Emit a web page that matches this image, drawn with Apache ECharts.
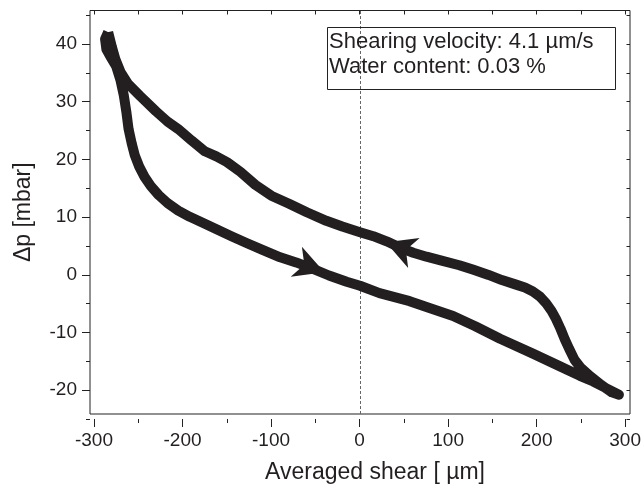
<!DOCTYPE html>
<html>
<head>
<meta charset="utf-8">
<script src="https://cdn.jsdelivr.net/npm/echarts@6.0.0/dist/echarts.min.js"></script>
<style>
  html, body { margin: 0; padding: 0; background: #fff; }
  #chart { width: 644px; height: 489px; }
</style>
</head>
<body>
<div id="chart"></div>
<script>
// Pressure difference across the sample during one shear cycle.
// Outbound branch: from the far-left turning point to the far right.
const lowerShear = [-284, -287.5, -286, -281, -275, -270, -266.5, -263.5, -261, -257.5, -254, -249, -243, -236, -227, -217, -205, -192, -178, -163, -145, -128, -110, -90, -72, -55, -35, -15, 0, 22, 56, 80, 105, 130, 158, 195, 225, 248, 263, 278, 292];
const lowerDp    = [42.0, 40.8, 39.0, 37.6, 36.0, 33.5, 31.0, 28.0, 25.0, 22.5, 20.4, 18.4, 16.6, 15.0, 13.4, 12.0, 10.7, 9.6, 8.6, 7.5, 6.2, 5.0, 3.8, 2.5, 1.6, 0.6, -0.7, -1.8, -2.5, -3.8, -5.2, -6.5, -7.8, -9.6, -11.8, -14.4, -16.6, -18.3, -19.3, -20.5, -21.6];
// Return branch: from the far-right turning point back to the left.
const upperShear = [284, 272, 260, 249, 242, 236, 231, 226, 221, 216, 210, 203, 195, 186, 176, 160, 145, 128, 112, 92, 75, 60, 45, 30, 15, 0, -20, -38, -60, -80, -100, -118, -135, -150, -162, -175, -190, -205, -217, -230, -248, -262, -270, -276, -280, -284];
const upperDp    = [-21.2, -19.9, -18.4, -16.9, -15.5, -13.6, -11.9, -10.0, -8.3, -6.9, -5.6, -4.4, -3.5, -2.8, -2.3, -1.5, -0.6, 0.3, 1.1, 1.9, 2.6, 3.3, 4.2, 5.3, 6.2, 6.9, 7.9, 8.9, 10.4, 11.9, 13.3, 15.2, 17.5, 19.2, 20.2, 21.1, 23.0, 25.0, 26.3, 28.1, 30.8, 33.0, 35.0, 37.3, 39.5, 42.0];

// Direction arrows sitting on the loop
const arrowShear = [-56, 45];
const arrowDp    = [0.8, 4.2];

// Axis ranges and tick steps
const shearView = [-304.5, 304.5];
const dpView = [-25, 45.8];
const shearTickRange = [-300, 300];
const shearTickStep = 100;
const dpMinorRange = [-25, 45];
const dpMinorStep = 5;
const dpMajorRange = [-20, 40];
const dpMajorStep = 10;

const noteLines = ['Shearing velocity: 4.1 \u00b5m/s', 'Water content: 0.03 %'];

const INK = '#231f20';
const FONT = '"Liberation Sans", Arial, Helvetica, sans-serif';
const W = 644, H = 489;
const box = { left: 90, right: 630, top: 10.5, bottom: 419 };

// barbed arrow head pointing up; rotated later along the loop
const ARROW_HEAD = 'path://M15,0 L30,28 L15,20 L0,28 Z';

function xPix(v) { return box.left + (v - shearView[0]) / (shearView[1] - shearView[0]) * (box.right - box.left); }
function yPix(v) { return box.bottom - (v - dpView[0]) / (dpView[1] - dpView[0]) * (box.bottom - box.top); }
function subGrid(x0, x1, y0, y1) {
  return { left: xPix(x0), right: W - xPix(x1), top: yPix(y1), bottom: H - yPix(y0), containLabel: false };
}

const loop = lowerShear.map((x, i) => [x, lowerDp[i]])
  .concat(upperShear.map((x, i) => [x, upperDp[i]]));

const hiddenX = (gi) => ({ gridIndex: gi, type: 'value', show: false, min: 0, max: 1, axisLine: { onZero: false } });
const hiddenY = (gi) => ({ gridIndex: gi, type: 'value', show: false, min: 0, max: 1, axisLine: { onZero: false } });
const tickLine = { color: '#222', width: 1 };

const chart = echarts.init(document.getElementById('chart'), null, { renderer: 'canvas' });

chart.setOption({
  animation: false,
  backgroundColor: '#fff',
  textStyle: { fontFamily: FONT },
  title: {
    text: noteLines.join('\n'),
    left: 327, top: 27,
    padding: [2, 22, 11, 2],
    borderColor: '#222', borderWidth: 1,
    textStyle: { fontFamily: FONT, fontSize: 22, lineHeight: 25, fontWeight: 'normal', color: INK }
  },
  grid: [
    { left: box.left, right: W - box.right, top: box.top, bottom: H - box.bottom, show: true, borderColor: '#222', borderWidth: 1, backgroundColor: 'transparent' },
    subGrid(shearTickRange[0], shearTickRange[1], dpView[0], dpView[1]),
    subGrid(shearView[0], shearView[1], dpMinorRange[0], dpMinorRange[1]),
    subGrid(shearView[0], shearView[1], dpMajorRange[0], dpMajorRange[1])
  ],
  xAxis: [
    {
      gridIndex: 0, type: 'value', min: shearView[0], max: shearView[1],
      axisLine: { show: false, onZero: false }, axisTick: { show: false }, axisLabel: { show: false }, splitLine: { show: false },
      name: 'Averaged shear [ \u00b5m]', nameLocation: 'middle', nameGap: 47,
      nameTextStyle: { fontFamily: FONT, fontSize: 23, color: INK, padding: [0, 0, 0, 30] }
    },
    {
      gridIndex: 1, type: 'value', position: 'bottom', min: shearTickRange[0], max: shearTickRange[1], interval: shearTickStep,
      axisLine: { show: false, onZero: false }, splitLine: { show: false },
      axisTick: { show: true, inside: false, length: 8, lineStyle: tickLine },
      minorTick: { show: true, splitNumber: 2, length: 4, lineStyle: tickLine },
      axisLabel: { margin: 12, fontFamily: FONT, fontSize: 19, color: INK }
    },
    {
      gridIndex: 1, type: 'value', position: 'top', min: shearTickRange[0], max: shearTickRange[1], interval: shearTickStep,
      axisLine: { show: false, onZero: false }, splitLine: { show: false },
      axisTick: { show: true, inside: true, length: 4, lineStyle: tickLine },
      minorTick: { show: true, splitNumber: 2, length: 4, lineStyle: tickLine },
      axisLabel: { show: false }
    },
    hiddenX(2),
    hiddenX(3)
  ],
  yAxis: [
    {
      gridIndex: 0, type: 'value', min: dpView[0], max: dpView[1],
      axisLine: { show: false, onZero: false }, axisTick: { show: false }, axisLabel: { show: false }, splitLine: { show: false },
      name: '\u0394p [mbar]', nameLocation: 'middle', nameGap: 55, nameRotate: 90,
      nameTextStyle: { fontFamily: FONT, fontSize: 23, color: INK }
    },
    hiddenY(1),
    {
      gridIndex: 2, type: 'value', position: 'left', min: dpMinorRange[0], max: dpMinorRange[1], interval: dpMinorStep,
      axisLine: { show: false, onZero: false }, splitLine: { show: false },
      axisTick: { show: true, inside: false, length: 4, lineStyle: tickLine },
      axisLabel: {
        margin: 13, fontFamily: FONT, fontSize: 19, color: INK,
        formatter: (v) => (Math.round(v) % dpMajorStep === 0 ? String(Math.round(v)) : '')
      }
    },
    {
      gridIndex: 2, type: 'value', position: 'right', min: dpMinorRange[0], max: dpMinorRange[1], interval: dpMinorStep,
      axisLine: { show: false, onZero: false }, splitLine: { show: false },
      axisTick: { show: true, inside: true, length: 3.5, lineStyle: tickLine },
      axisLabel: { show: false }
    },
    {
      gridIndex: 3, type: 'value', position: 'left', min: dpMajorRange[0], max: dpMajorRange[1], interval: dpMajorStep,
      axisLine: { show: false, onZero: false }, splitLine: { show: false },
      axisTick: { show: true, inside: false, length: 8, lineStyle: tickLine },
      axisLabel: { show: false }
    }
  ],
  series: [
    {
      name: 'loop', type: 'line', xAxisIndex: 0, yAxisIndex: 0,
      data: loop, showSymbol: false, symbol: 'none', smooth: false,
      lineStyle: { color: INK, width: 10, join: 'round', cap: 'butt' },
      z: 3,
      markLine: {
        silent: true, symbol: 'none', z: 1,
        label: { show: false },
        lineStyle: { color: '#666', width: 1, type: [3, 2] },
        data: [{ xAxis: 0 }]
      }
    },
    {
      name: 'direction', type: 'scatter', xAxisIndex: 0, yAxisIndex: 0,
      symbol: ARROW_HEAD, symbolSize: [32, 30],
      itemStyle: { color: INK, opacity: 1 },
      z: 4,
      data: arrowShear.map((x, i) => [x, arrowDp[i]])
    }
  ]
});

// Orient each arrow along the loop at the point where it sits
function headingAt(x, y) {
  const p = chart.convertToPixel({ seriesIndex: 0 }, [x, y]);
  const pix = loop.map((d) => chart.convertToPixel({ seriesIndex: 0 }, d));
  let best = 0, bestD = Infinity;
  for (let i = 0; i < pix.length - 1; i++) {
    const a = pix[i], b = pix[i + 1];
    const dx = b[0] - a[0], dy = b[1] - a[1];
    const len2 = dx * dx + dy * dy || 1;
    let t = ((p[0] - a[0]) * dx + (p[1] - a[1]) * dy) / len2;
    t = Math.max(0, Math.min(1, t));
    const qx = a[0] + t * dx, qy = a[1] + t * dy;
    const d = (p[0] - qx) ** 2 + (p[1] - qy) ** 2;
    if (d < bestD) { bestD = d; best = i; }
  }
  const a = pix[Math.max(0, best - 1)], b = pix[Math.min(pix.length - 1, best + 2)];
  const theta = Math.atan2(-(b[1] - a[1]), b[0] - a[0]) * 180 / Math.PI;
  return theta - 90;
}

chart.setOption({
  series: [
    {},
    {
      data: arrowShear.map((x, i) => ({ value: [x, arrowDp[i]], symbolRotate: headingAt(x, arrowDp[i]) }))
    }
  ]
});
</script>
</body>
</html>
